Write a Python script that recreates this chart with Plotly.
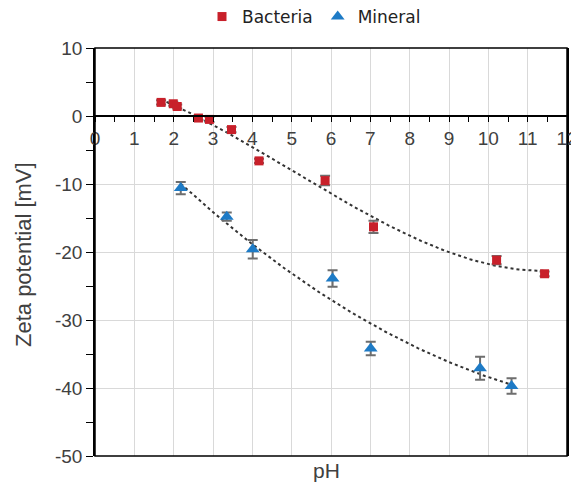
import numpy as np
import plotly.graph_objects as go

# Data
bac_ph = [1.68, 1.99, 2.09, 2.63, 2.91, 3.47, 4.17, 5.85, 7.08, 10.21, 11.43]
bac_zeta = [2.0, 1.8, 1.4, -0.3, -0.5, -2.0, -6.6, -9.5, -16.3, -21.2, -23.2]
bac_err = [0.3, 0.3, 0.3, 0.3, 0.4, 0.4, 0.3, 0.7, 0.9, 0.6, 0.35]

min_ph = [2.18, 3.35, 4.01, 6.04, 7.01, 9.79, 10.59]
min_zeta = [-10.6, -14.8, -19.6, -23.9, -34.2, -37.1, -39.7]
min_err = [0.9, 0.6, 1.35, 1.2, 1.0, 1.7, 1.15]

x_ticks = list(range(0, 13))
y_ticks = [10, 0, -10, -20, -30, -40, -50]

AX_FONT = "Liberation Sans, Arial, sans-serif"
LEG_FONT = "DejaVu Sans, Noto Sans, sans-serif"
RED = "#C8202A"
BLUE = "#1E7BC6"
ERR = "#6E6E6E"

W, H = 571, 486  # page body adds an 8px offset in the 579x494 window
L, R, T, B = 87, 12, 40, 38
PW, PH_ = W - L - R, H - T - B

fig = go.Figure()


def trend(xs, ys, order):
    c = np.polyfit(xs, ys, order)
    xx = np.linspace(min(xs), max(xs), 150)
    return xx, np.polyval(c, xx)


tx, ty = trend(bac_ph, bac_zeta, 3)
fig.add_trace(go.Scatter(x=tx, y=ty, mode="lines", showlegend=False,
                         line=dict(color="#333333", width=2, dash="dot"),
                         hoverinfo="skip"))
tx, ty = trend(min_ph, min_zeta, 2)
fig.add_trace(go.Scatter(x=tx, y=ty, mode="lines", showlegend=False,
                         line=dict(color="#333333", width=2, dash="dot"),
                         hoverinfo="skip"))

fig.add_trace(go.Scatter(
    x=bac_ph, y=bac_zeta, mode="markers", name="Bacteria",
    marker=dict(symbol="square", size=9, color=RED),
    error_y=dict(type="data", array=bac_err, color=ERR, thickness=2, width=5)))
fig.add_trace(go.Scatter(
    x=min_ph, y=min_zeta, mode="markers", name="Mineral",
    marker=dict(symbol="triangle-up", size=12, color=BLUE),
    error_y=dict(type="data", array=min_err, color=ERR, thickness=2, width=5)))

fig.update_layout(
    width=W, height=H,
    margin=dict(l=L, r=R, t=T, b=B, autoexpand=False),
    paper_bgcolor="white", plot_bgcolor="white",
    font=dict(family=AX_FONT, color="#404040", size=19),
    legend=dict(orientation="h", xref="container", yref="container",
                x=306 / W, xanchor="center", y=1 - 9 / H,
                yanchor="middle", font=dict(family=LEG_FONT, size=17, color="#222222"),
                itemwidth=30, tracegroupgap=0, bgcolor="rgba(0,0,0,0)"),
    xaxis=dict(range=[0, 12], tickvals=x_ticks, ticktext=[str(v) for v in x_ticks],
               showgrid=True, gridcolor="#D9D9D9", gridwidth=1,
               showline=True, linecolor="black", linewidth=1.5,
               anchor="free", position=50 / 60, automargin=False,
               ticklabeloverflow="allow",
               ticks="outside", ticklen=5, tickcolor="black", tickwidth=1,
               minor=dict(dtick=0.5, ticks="outside", ticklen=5, tickcolor="black", showgrid=False),
               tickfont=dict(size=19, color="#404040"), zeroline=False),
    yaxis=dict(range=[-50, 10], tickvals=y_ticks, ticktext=[str(v) for v in y_ticks],
               showgrid=True, gridcolor="#D9D9D9", gridwidth=1,
               showline=True, linecolor="black", linewidth=1.5, mirror=True,
               ticks="outside", ticklen=7, tickcolor="black", automargin=False,
               minor=dict(dtick=5, ticks="outside", ticklen=7, tickcolor="black", showgrid=False),
               tickfont=dict(size=19, color="#404040"), zeroline=False),
    annotations=[
        dict(text="pH", xref="paper", yref="paper", x=(326 - 95) / PW, y=-14 / PH_,
             yanchor="middle", showarrow=False, font=dict(size=21, color="#404040")),
        dict(text="Zeta potential [mV]", xref="paper", yref="paper",
             x=-(95 - 23) / PW, y=(456 - 255) / PH_, textangle=-90,
             xanchor="center", yanchor="middle", showarrow=False,
             font=dict(size=22, color="#404040")),
    ],
)

# Frame edges
fig.add_shape(type="rect", xref="paper", yref="paper", x0=0, x1=1, y0=0, y1=1,
              line=dict(color="black", width=1.5), layer="above")

fig.write_html("out.html")
